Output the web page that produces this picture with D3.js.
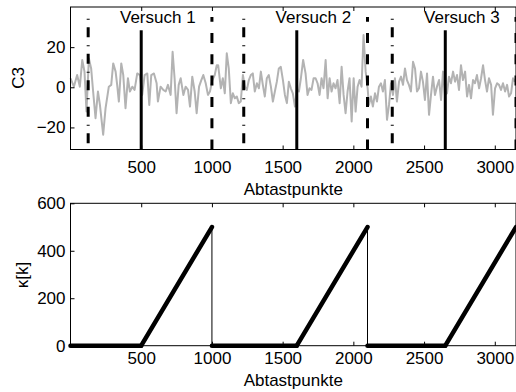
<!DOCTYPE html>
<html>
<head>
<meta charset="utf-8">
<script src="https://cdn.jsdelivr.net/npm/d3@7"></script>
<style>
  body { margin: 0; background: #fff; }
  svg { display: block; font-family: "Liberation Sans", Arial, sans-serif; }
</style>
</head>
<body>
<svg id="chart" width="516" height="392"></svg>
<script>
// C3 channel, [sample, value]
const c3 = [
  [0,4.5],[24,0.3],[47,6.1],[66,0.3],[83,13.6],[99,7.8],[113,-12.1],[130,14.4],[146,9.4],[160,-2.1],
  [177,-15.4],[194,-2.1],[208,-8.8],[231,-23.6],[248,-10.4],[271,0.3],[288,1.2],[302,11.9],[319,7.8],[330,1.2],
  [342,-7.1],[359,11.9],[373,6.1],[389,-10.4],[406,4.5],[420,-2.1],[437,0.3],[453,-1.3],[472,6.9],[491,6.1],
  [507,-3.8],[524,6.1],[543,6.9],[557,-8.8],[571,6.1],[590,6.9],[609,2],[618,-7.1],[637,0.3],[656,-1.3],
  [673,-2.1],[689,1.2],[708,-3.8],[722,17.7],[736,4.5],[750,-12.9],[765,1.2],[779,4.5],[798,-3.8],[814,0.3],
  [831,-1.3],[845,-9.6],[861,5.3],[878,-2.1],[892,-12.9],[909,0.3],[925,3.6],[939,6.1],[956,2],[972,-3.8],
  [986,-2.1],[1003,3.6],[1020,6.1],[1034,11],[1044,11],[1063,-0.5],[1077,4.5],[1091,-3],[1105,16.9],[1119,9.4],
  [1134,-7.9],[1148,-3],[1162,-5.5],[1176,-4.6],[1190,-7.9],[1204,-7.1],[1219,6.1],[1233,0.3],[1247,-1.3],[1261,3.6],
  [1275,6.1],[1289,6.9],[1303,-2.1],[1318,2],[1332,-0.5],[1346,7.8],[1360,1.2],[1374,-4.6],[1388,4.5],[1402,6.1],
  [1417,0.3],[1431,-7.1],[1445,-2.1],[1459,2.8],[1473,9.4],[1487,10.2],[1502,3.6],[1516,-3.8],[1530,-7.9],[1544,2.8],
  [1558,-0.5],[1572,-3],[1587,-9.6],[1601,-1.3],[1615,-2.1],[1629,4.5],[1645,13.6],[1662,6.9],[1676,-3.8],[1690,-0.5],
  [1704,-1.3],[1719,4.5],[1733,4.5],[1747,2],[1761,-3.8],[1775,4.5],[1789,-0.5],[1804,13.6],[1818,-5.5],[1832,4.5],
  [1846,-2.1],[1860,2],[1874,-0.5],[1888,3.6],[1903,-7.9],[1917,10.2],[1931,-3.8],[1945,-12.9],[1959,-2.1],[1973,4.5],
  [1988,-17],[2002,4.5],[2016,-12.1],[2030,0.3],[2044,3.6],[2058,0.3],[2072,26],[2087,7.8],[2101,-0.5],[2110,-8.8],
  [2124,-4.6],[2138,-9.6],[2153,-3],[2167,-7.1],[2181,0.3],[2195,2],[2209,-2.1],[2223,3.6],[2238,-16.2],[2252,-8.8],
  [2266,2],[2280,-3.8],[2294,4.5],[2308,-7.1],[2323,2.8],[2337,5.3],[2351,1.2],[2365,9.4],[2379,3.6],[2393,1.2],
  [2407,-2.1],[2422,12.7],[2436,9.4],[2450,-2.1],[2464,-0.5],[2478,7.8],[2492,2.8],[2506,-6.3],[2521,6.9],[2535,-13.7],
  [2549,-3.8],[2563,5.3],[2577,-3.8],[2591,0.3],[2606,3.6],[2620,-6.3],[2634,7.8],[2648,-3.8],[2662,-3],[2676,5.3],
  [2690,2],[2705,7.8],[2719,2.8],[2733,6.1],[2747,-1.3],[2761,11],[2775,3.6],[2790,7.8],[2804,-4.6],[2818,1.2],
  [2832,-5.5],[2846,3.6],[2860,2],[2874,6.1],[2889,-0.5],[2903,4.5],[2917,11],[2931,3.6],[2945,-2.1],[2959,4.5],
  [2974,1.2],[2987,-13.7],[3002,-0.5],[3016,2],[3030,1.2],[3044,-1.3],[3058,2],[3073,-2.1],[3087,1.2],[3101,-4.6],
  [3115,-3],[3129,4.5],[3143,2.8]
];

// trial markers (samples)
const cues = [125, 1225, 2275];
const onsets = [500, 1600, 2650];
const ends = [1000, 2100, 3150];
const trialLabels = ["Versuch 1", "Versuch 2", "Versuch 3"];

// kappa[k] breakpoints
const kappa = [[0,0],[500,0],[1000,500],[1000,0],[1600,0],[2100,500],[2100,0],[2650,0],[3150,500]];

const xTicks = [500, 1000, 1500, 2000, 2500, 3000];
const c3Ticks = [-20, 0, 20];
const kappaTicks = [0, 200, 400, 600];

const svg = d3.select("#chart");
const left = 70.5, right = 516;

const x = d3.scaleLinear().domain([0, 3150]).range([left, right]);
const y1 = d3.scaleLinear().domain([-31, 40]).range([149.5, 7]);
const y2 = d3.scaleLinear().domain([0, 600]).range([345.7, 203.3]);

// draws box + inward ticks for one panel
function frame(y, yTicks, xPad) {
  const [b, t] = y.range();
  const g = svg.append("g");

  const xb = g.append("g").attr("transform", `translate(0,${b})`)
    .call(d3.axisBottom(x).tickValues(xTicks).tickSize(-4).tickSizeOuter(0).tickPadding(xPad).tickFormat(d3.format("d")));
  const xt = g.append("g").attr("transform", `translate(0,${t})`)
    .call(d3.axisTop(x).tickValues(xTicks).tickSize(-4).tickSizeOuter(0).tickFormat(""));
  const yl = g.append("g").attr("transform", `translate(${left},0)`)
    .call(d3.axisLeft(y).tickValues(yTicks).tickSize(-4).tickSizeOuter(0).tickPadding(5));

  [xb, xt, yl].forEach(a => {
    a.select(".domain").remove();
    a.selectAll("line").attr("stroke", "#000");
    a.selectAll("text").attr("fill", "#000").style("font-size", "17px").style("font-family", "Liberation Sans, Arial, sans-serif");
  });

  g.append("rect")
    .attr("x", left).attr("y", t)
    .attr("width", right - left).attr("height", b - t)
    .attr("fill", "none").attr("stroke", "#000").attr("stroke-width", 1);
  return g;
}

// ---------- top panel ----------
svg.append("path")
  .datum(c3)
  .attr("fill", "none")
  .attr("stroke", "#b3b3b3")
  .attr("stroke-width", 2)
  .attr("stroke-linejoin", "round")
  .attr("d", d3.line().x(d => x(d[0])).y(d => y1(d[1])));

// cue lines (dash-dot)
svg.selectAll(".cue").data(cues).join("line")
  .attr("x1", d => x(d)).attr("x2", d => x(d))
  .attr("y1", y1(34.1)).attr("y2", y1(-31))
  .attr("stroke", "#000").attr("stroke-width", 3)
  .attr("stroke-dasharray", "1,7.5,10,8");

// onset lines (solid)
svg.selectAll(".onset").data(onsets).join("line")
  .attr("x1", d => x(d)).attr("x2", d => x(d))
  .attr("y1", y1(-31)).attr("y2", y1(28.4))
  .attr("stroke", "#000").attr("stroke-width", 3);

// end lines (dashed)
svg.selectAll(".end").data(ends).join("line")
  .attr("x1", d => x(d)).attr("x2", d => x(d))
  .attr("y1", y1(-31)).attr("y2", y1(35))
  .attr("stroke", "#000").attr("stroke-width", 3)
  .attr("stroke-dasharray", "10,11.3");

svg.selectAll(".trial").data(trialLabels).join("text")
  .attr("x", (d, i) => x(cues[i] + 225))
  .attr("y", y1(32))
  .style("font-size", "17px")
  .text(d => d);

frame(y1, c3Ticks, 11);

svg.append("text")
  .attr("transform", "translate(23.5,78) rotate(-90)")
  .attr("text-anchor", "middle").style("font-size", "17px")
  .text("C3");
svg.append("text")
  .attr("x", (left + right) / 2).attr("y", 195)
  .attr("text-anchor", "middle").style("font-size", "17px")
  .text("Abtastpunkte");

// ---------- bottom panel ----------
frame(y2, kappaTicks, 6);

const segs = d3.pairs(kappa);
svg.selectAll(".kseg").data(segs).join("line")
  .attr("x1", d => x(d[0][0])).attr("y1", d => y2(d[0][1]))
  .attr("x2", d => x(d[1][0])).attr("y2", d => y2(d[1][1]))
  .attr("stroke", "#000")
  .attr("stroke-width", d => d[0][0] === d[1][0] ? 1 : 4.5)
  .attr("stroke-linecap", d => d[0][0] === d[1][0] ? "butt" : "round");

svg.append("text")
  .attr("transform", "translate(28,275) rotate(-90)")
  .attr("text-anchor", "middle").style("font-size", "17px")
  .text("κ[k]");
svg.append("text")
  .attr("x", (left + right) / 2).attr("y", 386)
  .attr("text-anchor", "middle").style("font-size", "17px")
  .text("Abtastpunkte");
</script>
</body>
</html>
